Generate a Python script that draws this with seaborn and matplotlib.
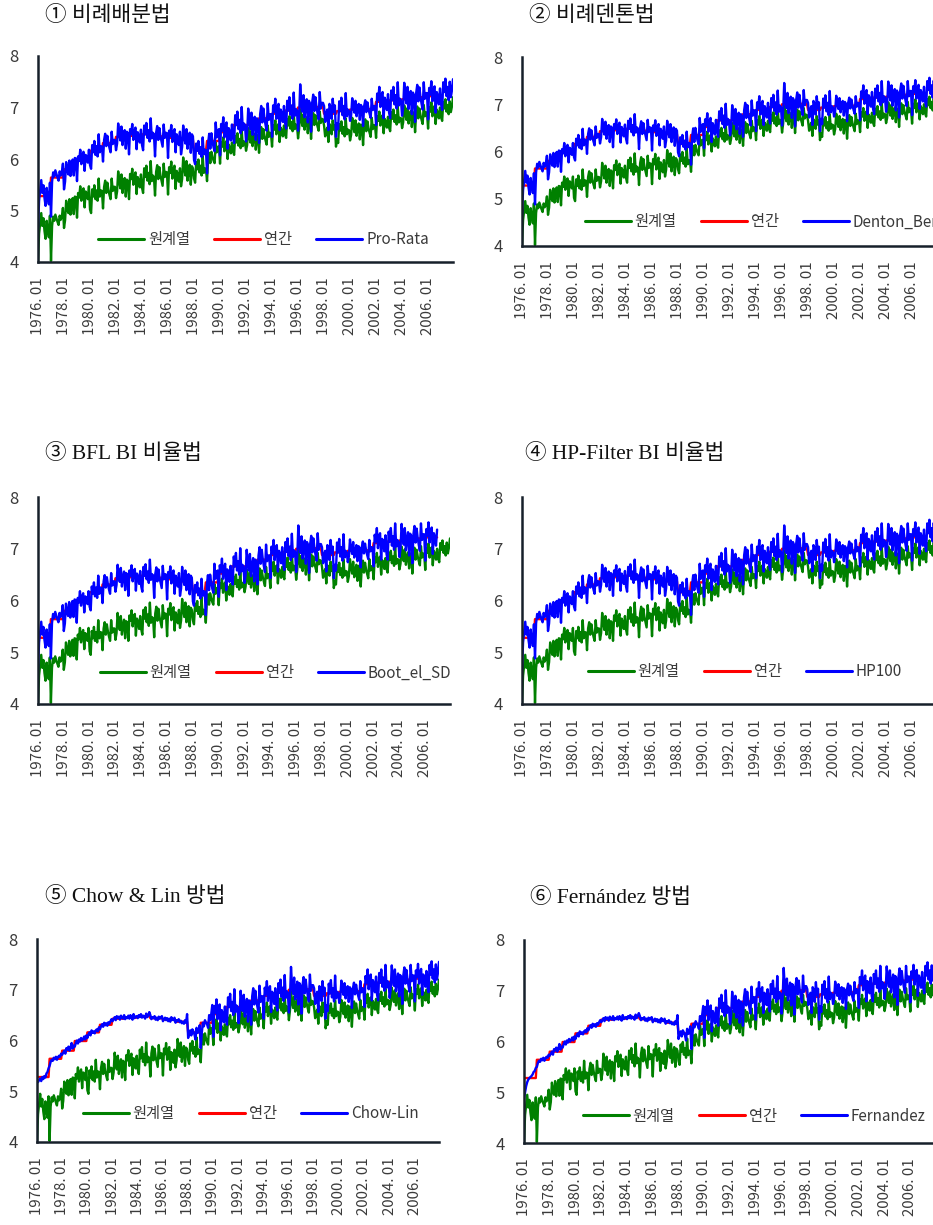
import numpy as np
import matplotlib
matplotlib.use("Agg")
import matplotlib.pyplot as plt
import seaborn as sns

# ---------------- data ----------------
tick_labels = ["1976. 01", "1978. 01", "1980. 01", "1982. 01", "1984. 01", "1986. 01",
               "1988. 01", "1990. 01", "1992. 01", "1994. 01", "1996. 01", "1998. 01",
               "2000. 01", "2002. 01", "2004. 01", "2006. 01"]

# annual benchmark (연간) 1976-2006
annual = [5.28, 5.64, 5.80, 5.99, 6.16, 6.31, 6.43, 6.45, 6.48, 6.44, 6.41, 6.37, 6.16,
          6.35, 6.52, 6.66, 6.66, 6.79, 6.88, 6.94, 7.00, 7.01, 6.88, 6.93, 6.96, 6.97,
          7.11, 7.14, 7.16, 7.20, 7.22]

# original monthly series (원계열), 1976.01-2007.12, one row per year
original = [
    [4.02, 4.55, 4.75, 4.95, 4.70, 4.85, 4.60, 4.45, 4.80, 4.62, 4.48, 4.90],
    [4.02, 4.70, 4.88, 4.80, 4.92, 4.85, 4.78, 4.72, 4.90, 4.82, 4.88, 5.05],
    [4.66, 4.81, 5.19, 5.04, 4.95, 5.22, 4.92, 5.11, 5.24, 4.93, 5.27, 5.26],
    [4.86, 5.34, 5.25, 5.47, 5.19, 5.37, 5.43, 5.06, 5.37, 5.33, 5.22, 5.47],
    [5.02, 4.95, 5.41, 5.27, 5.49, 5.22, 5.39, 5.19, 5.62, 5.27, 5.39, 5.38],
    [5.04, 5.46, 5.58, 5.34, 5.54, 5.40, 5.30, 5.22, 5.62, 5.38, 5.46, 5.46],
    [5.24, 5.37, 5.76, 5.57, 5.43, 5.70, 5.34, 5.53, 5.63, 5.27, 5.60, 5.57],
    [5.22, 5.71, 5.61, 5.81, 5.50, 5.68, 5.74, 5.32, 5.65, 5.58, 5.45, 5.70],
    [5.44, 5.34, 5.82, 5.65, 5.87, 5.58, 5.73, 5.51, 5.96, 5.57, 5.68, 5.65],
    [5.29, 5.75, 5.88, 5.61, 5.84, 5.68, 5.58, 5.48, 5.91, 5.65, 5.75, 5.74],
    [5.31, 5.84, 5.73, 5.95, 5.62, 5.81, 5.87, 5.42, 5.77, 5.70, 5.56, 5.82],
    [5.47, 5.61, 6.03, 5.82, 5.68, 5.96, 5.58, 5.78, 5.89, 5.50, 5.86, 5.82],
    [5.62, 5.54, 5.94, 5.80, 5.99, 5.74, 5.87, 5.68, 6.06, 5.73, 5.82, 5.81],
    [5.57, 5.99, 6.12, 5.92, 6.14, 6.04, 5.97, 5.92, 6.32, 6.13, 6.23, 6.25],
    [5.91, 6.33, 6.24, 6.42, 6.15, 6.31, 6.35, 6.00, 6.28, 6.22, 6.11, 6.32],
    [6.15, 6.08, 6.45, 6.32, 6.50, 6.26, 6.39, 6.21, 6.56, 6.25, 6.34, 6.33],
    [6.16, 6.27, 6.60, 6.44, 6.32, 6.55, 6.25, 6.40, 6.49, 6.18, 6.47, 6.43],
    [6.12, 6.51, 6.62, 6.39, 6.58, 6.45, 6.36, 6.28, 6.65, 6.43, 6.51, 6.50],
    [6.24, 6.66, 6.57, 6.75, 6.48, 6.64, 6.68, 6.33, 6.61, 6.55, 6.44, 6.65],
    [6.48, 6.41, 6.78, 6.65, 6.83, 6.59, 6.72, 6.54, 6.89, 6.58, 6.67, 6.66],
    [6.40, 6.59, 6.98, 6.76, 6.64, 6.87, 6.57, 6.72, 6.81, 6.50, 6.79, 6.77],
    [6.39, 6.78, 6.89, 6.66, 6.85, 6.72, 6.63, 6.55, 6.92, 6.70, 6.78, 6.77],
    [6.65, 6.44, 6.55, 6.61, 6.33, 6.68, 6.64, 6.48, 6.75, 6.57, 6.66, 6.24],
    [6.38, 6.31, 6.68, 6.55, 6.73, 6.49, 6.62, 6.44, 6.79, 6.48, 6.57, 6.56],
    [6.36, 6.47, 6.80, 6.64, 6.52, 6.75, 6.45, 6.60, 6.69, 6.38, 6.67, 6.63],
    [6.27, 6.66, 6.77, 6.54, 6.73, 6.60, 6.51, 6.43, 6.80, 6.58, 6.66, 6.65],
    [6.41, 6.83, 6.74, 6.92, 6.65, 6.81, 6.85, 6.50, 6.78, 6.72, 6.61, 6.82],
    [6.61, 6.54, 6.91, 6.78, 6.96, 6.72, 6.85, 6.67, 7.02, 6.71, 6.80, 6.79],
    [6.60, 6.71, 7.04, 6.88, 6.76, 6.99, 6.69, 6.84, 6.93, 6.62, 6.91, 6.87],
    [6.52, 6.91, 7.02, 6.79, 6.98, 6.85, 6.76, 6.68, 7.05, 6.83, 6.91, 6.90],
    [6.59, 7.01, 6.92, 7.10, 6.83, 6.99, 7.03, 6.68, 6.96, 6.90, 6.79, 7.00],
    [6.81, 6.74, 7.11, 6.98, 7.16, 6.92, 7.05, 6.87, 7.12, 6.91, 7.02, 7.20],
]

# benchmarked monthly series, ratio-type methods (Pro-Rata / Denton / BFL / HP), 1976.01-2007.12
ratio_blue = [
    [4.66, 5.19, 5.39, 5.59, 5.34, 5.49, 5.24, 5.09, 5.44, 5.26, 5.12, 5.54],
    [4.88, 5.56, 5.74, 5.66, 5.78, 5.71, 5.64, 5.58, 5.76, 5.68, 5.74, 5.91],
    [5.41, 5.56, 5.94, 5.79, 5.70, 5.97, 5.67, 5.86, 5.99, 5.68, 6.02, 6.01],
    [5.57, 6.05, 5.96, 6.18, 5.90, 6.08, 6.14, 5.77, 6.08, 6.04, 5.93, 6.18],
    [5.88, 5.81, 6.27, 6.13, 6.35, 6.08, 6.25, 6.05, 6.48, 6.13, 6.25, 6.24],
    [5.95, 6.37, 6.49, 6.25, 6.45, 6.31, 6.21, 6.13, 6.53, 6.29, 6.37, 6.37],
    [6.17, 6.30, 6.69, 6.50, 6.36, 6.63, 6.27, 6.46, 6.56, 6.20, 6.53, 6.50],
    [6.09, 6.58, 6.48, 6.68, 6.37, 6.55, 6.61, 6.19, 6.52, 6.45, 6.32, 6.57],
    [6.27, 6.17, 6.65, 6.48, 6.70, 6.41, 6.56, 6.34, 6.79, 6.40, 6.51, 6.48],
    [6.05, 6.51, 6.64, 6.37, 6.60, 6.44, 6.34, 6.24, 6.67, 6.41, 6.51, 6.50],
    [6.02, 6.55, 6.44, 6.66, 6.33, 6.52, 6.58, 6.13, 6.48, 6.41, 6.27, 6.53],
    [6.09, 6.23, 6.65, 6.44, 6.30, 6.58, 6.20, 6.40, 6.51, 6.12, 6.48, 6.44],
    [5.98, 5.90, 6.30, 6.16, 6.35, 6.10, 6.23, 6.04, 6.42, 6.09, 6.18, 6.17],
    [5.72, 6.31, 6.49, 6.20, 6.50, 6.34, 6.23, 6.15, 6.71, 6.42, 6.55, 6.58],
    [6.07, 6.68, 6.55, 6.81, 6.42, 6.65, 6.71, 6.20, 6.60, 6.52, 6.36, 6.67],
    [6.42, 6.31, 6.85, 6.66, 6.92, 6.58, 6.76, 6.50, 7.01, 6.56, 6.69, 6.66],
    [6.34, 6.50, 6.98, 6.74, 6.58, 6.90, 6.47, 6.69, 6.82, 6.37, 6.79, 6.74],
    [6.31, 6.87, 7.03, 6.71, 6.98, 6.79, 6.66, 6.55, 7.08, 6.76, 6.87, 6.87],
    [6.43, 7.04, 6.91, 7.17, 6.78, 7.01, 7.07, 6.56, 6.96, 6.88, 6.72, 7.03],
    [6.70, 6.59, 7.13, 6.94, 7.20, 6.86, 7.04, 6.78, 7.29, 6.84, 6.97, 6.94],
    [6.55, 6.84, 7.45, 7.08, 6.92, 7.24, 6.81, 7.03, 7.16, 6.71, 7.13, 7.08],
    [6.53, 7.09, 7.25, 6.93, 7.20, 7.01, 6.88, 6.77, 7.30, 6.98, 7.09, 7.09],
    [7.03, 6.72, 6.88, 6.96, 6.56, 7.07, 7.01, 6.78, 7.17, 6.91, 7.04, 6.43],
    [6.69, 6.58, 7.12, 6.93, 7.19, 6.85, 7.03, 6.77, 7.28, 6.83, 6.96, 6.93],
    [6.74, 6.85, 7.18, 7.02, 6.90, 7.13, 6.83, 6.98, 7.07, 6.76, 7.05, 7.01],
    [6.64, 7.03, 7.14, 6.91, 7.10, 6.97, 6.88, 6.80, 7.17, 6.95, 7.03, 7.02],
    [6.66, 7.27, 7.14, 7.40, 7.01, 7.24, 7.30, 6.79, 7.19, 7.11, 6.95, 7.26],
    [6.90, 6.79, 7.33, 7.14, 7.40, 7.06, 7.24, 6.98, 7.49, 7.04, 7.17, 7.14],
    [6.84, 7.00, 7.48, 7.24, 7.08, 7.40, 6.97, 7.19, 7.32, 6.87, 7.29, 7.24],
    [6.72, 7.28, 7.44, 7.12, 7.39, 7.20, 7.07, 6.96, 7.49, 7.17, 7.28, 7.28],
    [6.77, 7.38, 7.25, 7.51, 7.12, 7.35, 7.41, 6.90, 7.30, 7.22, 7.06, 7.37],
    [7.06, 6.95, 7.49, 7.30, 7.56, 7.22, 7.40, 7.14, 7.50, 7.20, 7.33, 7.55],
]

# regression-type methods (Chow-Lin), smooth early part 1976-1989
chowlin_early = [
    [5.20, 5.18, 5.22, 5.25, 5.20, 5.28, 5.24, 5.30, 5.27, 5.35, 5.38, 5.45],
    [5.50, 5.58, 5.62, 5.60, 5.66, 5.63, 5.68, 5.62, 5.67, 5.70, 5.68, 5.74],
    [5.72, 5.76, 5.80, 5.74, 5.85, 5.82, 5.88, 5.80, 5.86, 5.95, 5.84, 5.90],
    [5.88, 5.95, 6.00, 5.94, 6.02, 5.98, 6.05, 6.00, 6.03, 6.08, 6.02, 6.10],
    [6.05, 6.12, 6.16, 6.10, 6.20, 6.15, 6.18, 6.14, 6.20, 6.22, 6.18, 6.26],
    [6.22, 6.28, 6.32, 6.27, 6.35, 6.30, 6.34, 6.29, 6.36, 6.33, 6.38, 6.42],
    [6.38, 6.42, 6.46, 6.40, 6.48, 6.44, 6.47, 6.41, 6.49, 6.45, 6.43, 6.50],
    [6.42, 6.46, 6.44, 6.49, 6.43, 6.50, 6.45, 6.41, 6.52, 6.44, 6.47, 6.48],
    [6.44, 6.50, 6.46, 6.52, 6.45, 6.49, 6.47, 6.43, 6.53, 6.46, 6.50, 6.56],
    [6.50, 6.42, 6.46, 6.44, 6.48, 6.41, 6.45, 6.40, 6.47, 6.43, 6.46, 6.48],
    [6.38, 6.42, 6.45, 6.40, 6.44, 6.38, 6.43, 6.37, 6.46, 6.41, 6.40, 6.45],
    [6.35, 6.40, 6.38, 6.42, 6.36, 6.39, 6.34, 6.37, 6.33, 6.40, 6.35, 6.52],
    [6.05, 6.15, 6.20, 6.10, 6.22, 6.18, 6.12, 6.02, 6.25, 6.15, 6.20, 6.30],
    [5.85, 6.15, 6.35, 6.28, 6.40, 6.35, 6.32, 6.25, 6.50, 6.40, 6.52, 6.70],
]
fernandez_1976 = [4.88, 5.00, 5.12, 5.20, 5.25, 5.28, 5.30, 5.32, 5.35, 5.40, 5.42, 5.48]

chowlin_rows = chowlin_early + ratio_blue[len(chowlin_early):]
fernandez_rows = [fernandez_1976] + chowlin_rows[1:]

orig = np.concatenate(original)
ratio = np.concatenate(ratio_blue)
chowlin = np.concatenate(chowlin_rows)
fernandez = np.concatenate(fernandez_rows)
annual_m = np.repeat(annual, 12)
n_annual = len(annual_m)

# ---------------- style ----------------
sns.set_style("white")
plt.rcParams['font.family'] = ['Noto Sans CJK KR', 'DejaVu Sans']

W, H = 933, 1225
fig = plt.figure(figsize=(W / 100, H / 100), dpi=100)

GREEN, RED, BLUE = '#008000', '#ff0000', '#0000ff'
SPINE = '#17202a'
TXT = '#3a3a3a'

def rect(l, r, t, b):
    return [l / W, (H - b) / H, (r - l) / W, (b - t) / H]

panels = [
    dict(title="① 비례배분법", name="Pro-Rata", blue=ratio, rect=rect(38, 453, 56, 262),
         leg=(0.145, 0.107), tpos=(45, 16)),
    dict(title="② 비례덴톤법", name="Denton_Ben", blue=ratio, rect=rect(522, 937, 57, 246),
         leg=(0.152, 0.127), tpos=(529, 16)),
    dict(title="③ BFL BI 비율법", name="Boot_el_SD", blue=ratio[:n_annual], rect=rect(38, 450, 497, 704),
         leg=(0.150, 0.150), tpos=(45, 454)),
    dict(title="④ HP-Filter BI 비율법", name="HP100", blue=ratio, rect=rect(522, 937, 497, 704),
         leg=(0.159, 0.155), tpos=(525, 454)),
    dict(title="⑤ Chow & Lin 방법", name="Chow-Lin", blue=chowlin, rect=rect(37, 439, 939, 1142),
         leg=(0.114, 0.138), tpos=(45, 897)),
    dict(title="⑥ Fernández 방법", name="Fernandez", blue=fernandez, rect=rect(524, 935, 940, 1143),
         leg=(0.143, 0.133), tpos=(530, 898)),
]

idx = np.arange(len(orig))
tick_pos = np.arange(0, len(tick_labels) * 24, 24)

for p in panels:
    ax = fig.add_axes(p['rect'])
    sns.lineplot(x=idx, y=orig, ax=ax, color=GREEN, lw=1.7, label='원계열',
                 estimator=None, sort=False)
    sns.lineplot(x=idx[:n_annual], y=annual_m, ax=ax, color=RED, lw=1.7, label='연간',
                 estimator=None, sort=False)
    b = p['blue']
    sns.lineplot(x=idx[:len(b)], y=b, ax=ax, color=BLUE, lw=1.7, label=p['name'],
                 estimator=None, sort=False)
    ax.set_xlim(0, len(orig) - 1)
    ax.set_ylim(4, 8)
    ax.set_yticks([4, 5, 6, 7, 8])
    ax.set_xticks(tick_pos)
    ax.set_xticklabels(tick_labels, rotation=90, fontsize=10.8, color=TXT)
    ax.set_xlabel('')
    ax.set_ylabel('')
    ax.tick_params(axis='y', direction='in', length=4, width=1.5, color=SPINE,
                   labelsize=12, labelcolor=TXT, pad=14)
    ax.tick_params(axis='x', length=0, pad=11)
    for s in ['top', 'right']:
        ax.spines[s].set_visible(False)
    for s in ['left', 'bottom']:
        ax.spines[s].set_color(SPINE)
        ax.spines[s].set_linewidth(1.8)
    ax.grid(False)
    leg = ax.legend(loc='center left', bbox_to_anchor=p['leg'], ncol=3, frameon=False,
                    fontsize=11, handlelength=3.0, handletextpad=0.25, columnspacing=1.6,
                    borderpad=0, borderaxespad=0)
    for t in leg.get_texts():
        t.set_color(TXT)
    for l in leg.get_lines():
        l.set_linewidth(2.2)
    fig.text(p['tpos'][0] / W, 1 - p['tpos'][1] / H, p['title'], fontsize=15.5,
             family=['Liberation Serif', 'Noto Sans CJK KR'], color='#111111',
             ha='left', va='center')

fig.savefig('out.png', dpi=100)
